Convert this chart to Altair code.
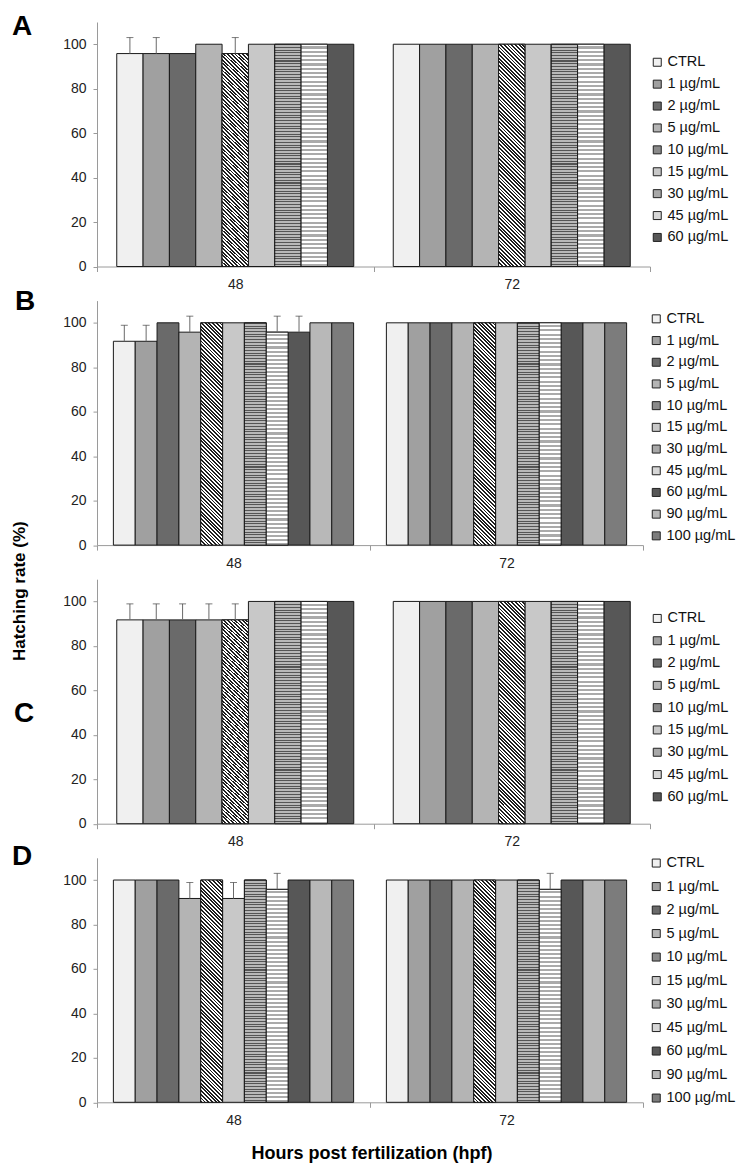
import altair as alt
import pandas as pd

# ---------------- data ----------------
cats9 = ["CTRL", "1 µg/mL", "2 µg/mL", "5 µg/mL", "10 µg/mL", "15 µg/mL",
         "30 µg/mL", "45 µg/mL", "60 µg/mL"]
cats11 = cats9 + ["90 µg/mL", "100 µg/mL"]
hpf = ["48", "72"]

A_48 = [95.8, 95.8, 95.8, 100, 95.8, 100, 100, 100, 100]
A_48_err = [7.2, 7.2, 0, 0, 7.2, 0, 0, 0, 0]
A_72 = [100, 100, 100, 100, 100, 100, 100, 100, 100]
A_72_err = [0, 0, 0, 0, 0, 0, 0, 0, 0]

B_48 = [91.7, 91.7, 100, 95.8, 100, 100, 100, 95.8, 95.8, 100, 100]
B_48_err = [7.2, 7.2, 0, 7.2, 0, 0, 0, 7.2, 7.2, 0, 0]
B_72 = [100, 100, 100, 100, 100, 100, 100, 100, 100, 100, 100]
B_72_err = [0, 0, 0, 0, 0, 0, 0, 0, 0, 0, 0]

C_48 = [91.7, 91.7, 91.7, 91.7, 91.7, 100, 100, 100, 100]
C_48_err = [7.2, 7.2, 7.2, 7.2, 7.2, 0, 0, 0, 0]
C_72 = [100, 100, 100, 100, 100, 100, 100, 100, 100]
C_72_err = [0, 0, 0, 0, 0, 0, 0, 0, 0]

D_48 = [100, 100, 100, 91.7, 100, 91.7, 100, 95.8, 100, 100, 100]
D_48_err = [0, 0, 0, 7.2, 0, 7.2, 0, 7.2, 0, 0, 0]
D_72 = [100, 100, 100, 100, 100, 100, 100, 95.8, 100, 100, 100]
D_72_err = [0, 0, 0, 0, 0, 0, 0, 7.2, 0, 0, 0]

# ---------------- styling ----------------
FONT = "Liberation Sans"
H = 244.5
fills = {
    "CTRL": "#f0f0f0", "1 µg/mL": "#a0a0a0", "2 µg/mL": "#6a6a6a",
    "5 µg/mL": "#b4b4b4", "10 µg/mL": "#8a8a8a", "15 µg/mL": "#c8c8c8",
    "30 µg/mL": "#a8a8a8", "45 µg/mL": "#d6d6d6", "60 µg/mL": "#575757",
    "90 µg/mL": "#b8b8b8", "100 µg/mL": "#7c7c7c",
}


def stripes(c1, c2, n, frac1=0.5, **coords):
    stops = []
    for i in range(n):
        a, b, c = i / n, (i + frac1) / n, (i + 1) / n
        stops += [(a, c1), (b, c1), (b, c2), (c, c2)]
    return alt.LinearGradient(
        gradient="linear",
        stops=[alt.GradientStop(offset=round(o, 5), color=col) for o, col in stops],
        **coords,
    )


def patterns(bar_w):
    bh = H * 100 / 110
    k = (bar_w + bh) / (bar_w ** 2 + bh ** 2)
    diag_len = (bar_w + bh) / 2 ** 0.5
    return {
        "10 µg/mL": stripes("#202020", "#ffffff", int(diag_len / 2.6), 0.5,
                            x1=0, y1=1, x2=round(k * bar_w, 4), y2=round(1 - k * bh, 4)),
        "30 µg/mL": stripes("#555555", "#b8b8b8", int(bh / 2.7), 0.38,
                            x1=0, y1=0, x2=0, y2=1),
        "45 µg/mL": stripes("#ffffff", "#aaaaaa", int(bh / 4.2), 0.5,
                            x1=0, y1=0, x2=0, y2=1),
    }


def panel(cats, v48, e48, v72, e72, W, letter, lx, ly, legend_x, legend_y,
          row_pad, extra=()):
    rows = []
    for h, vals, errs in (("48", v48, e48), ("72", v72, e72)):
        for c, v, e in zip(cats, vals, errs):
            rows.append({"hpf": h, "conc": c, "value": v, "err": e, "top": v + e})
    df = pd.DataFrame(rows)

    base = alt.Chart(df).encode(
        x=alt.X("hpf:N", sort=hpf,
                scale=alt.Scale(domain=hpf, paddingInner=0, paddingOuter=0),
                axis=alt.Axis(title=None, labelAngle=0, tickBand="extent",
                              domainColor="#9a9a9a", tickColor="#9a9a9a", tickSize=5,
                              labelFont=FONT, labelFontSize=14, labelColor="#222",
                              labelPadding=6)),
        xOffset=alt.XOffset("conc:N", sort=cats,
                            scale=alt.Scale(domain=cats, paddingInner=0, paddingOuter=0.75)),
        y=alt.Y("value:Q", scale=alt.Scale(domain=[0, 110], nice=False),
                axis=alt.Axis(title=None, values=[0, 20, 40, 60, 80, 100], grid=False,
                              domainColor="#9a9a9a", tickColor="#9a9a9a", tickSize=4,
                              labelFont=FONT, labelFontSize=14, labelColor="#222",
                              labelPadding=7)),
    )

    bars = base.mark_bar(stroke="#1a1a1a", strokeWidth=1).encode(
        fill=alt.Fill("conc:N", sort=cats,
                      scale=alt.Scale(domain=cats, range=[fills[c] for c in cats]),
                      legend=alt.Legend(title=None, orient="none", legendX=legend_x,
                                        legendY=legend_y, symbolType="square",
                                        symbolSize=64, symbolStrokeColor="#222",
                                        symbolStrokeWidth=1, labelFont=FONT,
                                        labelFontSize=14.5, labelColor="#111",
                                        rowPadding=row_pad, labelOffset=3,
                                        labelLimit=200, padding=0)),
    )
    bar_w = W / 2 / (len(cats) + 1.5)
    overlays = [
        base.transform_filter(alt.datum.conc == c).mark_bar(
            fill=g, stroke="#1a1a1a", strokeWidth=1)
        for c, g in patterns(bar_w).items()
    ]
    err = base.transform_filter("datum.err > 0").mark_rule(
        color="#6a6a6a", strokeWidth=1).encode(y="value:Q", y2="top:Q")
    caps = base.transform_filter("datum.err > 0").mark_tick(
        color="#444", thickness=1, size=7).encode(y="top:Q")

    lab = alt.Chart(pd.DataFrame({"t": [letter]})).mark_text(
        font=FONT, fontSize=28, fontWeight="bold", align="left",
        baseline="alphabetic", color="#000").encode(
        text="t:N", x=alt.value(lx), y=alt.value(ly))

    layers = [bars] + overlays + [err, caps, lab] + list(extra)
    return alt.layer(*layers).properties(width=W, height=H)


ytitle = alt.Chart(pd.DataFrame({"t": ["Hatching rate (%)"]})).mark_text(
    font=FONT, fontSize=17, fontWeight="bold", angle=270, align="center",
    baseline="middle", color="#000").encode(
    text="t:N", x=alt.value(-77), y=alt.value(12))

WA, WB = 553, 546
xtitle = alt.Chart(pd.DataFrame({"t": ["Hours post fertilization (hpf)"]})).mark_text(
    font=FONT, fontSize=18, fontWeight="bold", align="center",
    baseline="middle", color="#000").encode(
    text="t:N", x=alt.value(WB / 2 + 2), y=alt.value(H + 52))

pA = panel(cats9, A_48, A_48_err, A_72, A_72_err, WA, "A", -85, 13, 553, 33, 6.9)
pB = panel(cats11, B_48, B_48_err, B_72, B_72_err, WB, "B", -82, 9, 552, 11, 6.7)
pC = panel(cats9, C_48, C_48_err, C_72, C_72_err, WA, "C", -83, 143, 553, 32, 7.3,
           extra=[ytitle])
pD = panel(cats11, D_48, D_48_err, D_72, D_72_err, WB, "D", -85, 7, 552, -2, 8.5,
           extra=[xtitle])

chart = alt.vconcat(pA, pB, pC, pD, spacing=33.6, bounds="flush").resolve_scale(
    x="independent", xOffset="independent", y="independent", fill="independent"
).resolve_legend(fill="independent").properties(
    padding={"left": 2, "top": 5, "right": 0, "bottom": 0}
).configure_view(stroke=None)

chart.save("out.html", embed_options={"renderer": "svg", "actions": False})
